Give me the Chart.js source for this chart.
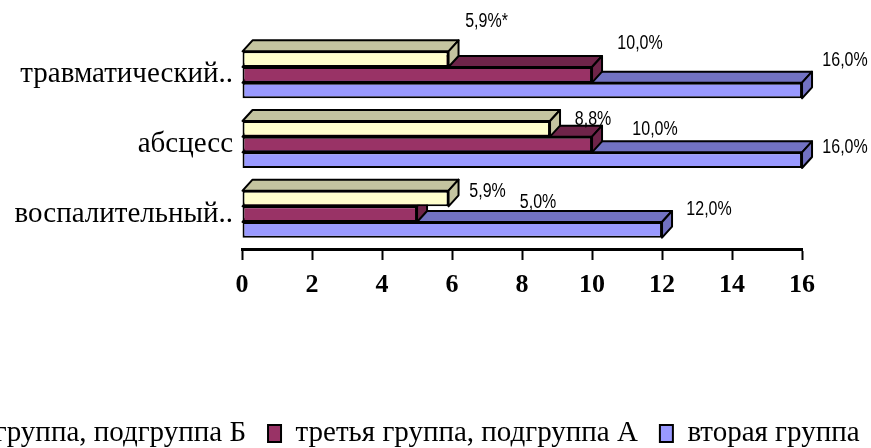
<!DOCTYPE html>
<html>
<head>
<meta charset="utf-8">
<script src="https://cdn.jsdelivr.net/npm/chart.js@4.4.1/dist/chart.umd.min.js"></script>
<style>
html, body { margin: 0; padding: 0; background: #fff; overflow: hidden; }
#wrap { position: relative; width: 871px; height: 448px; overflow: hidden; background: #fff; }
#c { position: absolute; top: 0; left: 0; }
</style>
</head>
<body>
<div id="wrap"><canvas id="c" width="1100" height="458"></canvas></div>
<script>
// ---- data ----
const categories = ['травматический..', 'абсцесс', 'воспалительный..'];
const seriesNames = ['третья группа, подгруппа Б', 'третья группа, подгруппа А', 'вторая группа'];
const subgroupB = [5.9, 8.8, 5.9];
const subgroupA = [10.0, 10.0, 5.0];
const secondGroup = [16.0, 16.0, 12.0];
const valueNotes = [['*', '', ''], ['', '', ''], ['', '', '']];
const xTickValues = [0, 2, 4, 6, 8, 10, 12, 14, 16];

// ---- styles ----
const seriesValues = [subgroupB, subgroupA, secondGroup];
const frontColors = ['#FFFFCC', '#993366', '#9999FF'];
const faceColors = ['#C4C4A0', '#6E2449', '#7272C2'];
const SERIF = "'Liberation Serif', 'Times New Roman', serif";
const SANS = "'Liberation Sans', Arial, sans-serif";

const W = 1100;
const target = { left: 242, right: 802, top: 40, bottom: 249, legendBoxX: 268 };
let shift = 0;
let xAxisH = 145;

const bar3d = {
  id: 'bar3d',
  beforeDatasetDraw(chart, args, opts) {
    const ds = chart.data.datasets[args.index];
    const ctx = chart.ctx;
    ctx.save();
    ctx.lineWidth = opts.lineWidth;
    ctx.strokeStyle = '#000';
    ctx.lineJoin = 'round';
    args.meta.data.forEach(bar => {
      const p = bar.getProps(['x', 'y', 'base', 'height'], true);
      const top = p.y - p.height / 2, bottom = p.y + p.height / 2;
      const dx = opts.dx, dy = opts.dy;
      ctx.fillStyle = ds.faceColor;
      ctx.beginPath();
      ctx.moveTo(p.base, top);
      ctx.lineTo(p.base + dx, top - dy);
      ctx.lineTo(p.x + dx, top - dy);
      ctx.lineTo(p.x, top);
      ctx.closePath();
      ctx.fill(); ctx.stroke();
      ctx.beginPath();
      ctx.moveTo(p.x, top);
      ctx.lineTo(p.x + dx, top - dy);
      ctx.lineTo(p.x + dx, bottom - dy);
      ctx.lineTo(p.x, bottom);
      ctx.closePath();
      ctx.fill(); ctx.stroke();
    });
    ctx.restore();
  }
};

const valueLabels = {
  id: 'valueLabels',
  afterDatasetsDraw(chart, args, opts) {
    const ctx = chart.ctx;
    chart.data.datasets.forEach((ds, i) => {
      chart.getDatasetMeta(i).data.forEach((bar, j) => {
        const v = ds.data[j];
        const txt = v.toFixed(1).replace('.', ',') + '%' + valueNotes[i][j];
        const n = opts.nudge[i][j];
        ctx.save();
        ctx.font = opts.font;
        ctx.fillStyle = '#000';
        ctx.textAlign = 'center';
        ctx.textBaseline = 'middle';
        ctx.translate(bar.x + n[0], bar.y + n[1]);
        ctx.scale(opts.squeeze, 1);
        ctx.fillText(txt, 0, 0);
        ctx.restore();
      });
    });
  }
};

const datasets = seriesValues.map((vals, i) => ({
  label: seriesNames[i],
  data: vals,
  backgroundColor: frontColors[i],
  borderColor: '#000',
  borderWidth: 2,
  borderSkipped: false,
  categoryPercentage: 0.675,
  barPercentage: 1,
  faceColor: faceColors[i],
  clip: false
}));

const canvas = document.getElementById('c');
const chart = new Chart(canvas, {
  type: 'bar',
  data: { labels: categories, datasets },
  plugins: [bar3d, valueLabels],
  options: {
    indexAxis: 'y',
    responsive: false,
    animation: false,
    devicePixelRatio: 1,
    layout: { padding: { top: target.top, left: 0, right: 0, bottom: 0 } },
    plugins: {
      legend: {
        position: 'bottom',
        align: 'center',
        labels: { font: { family: SERIF, size: 29 }, color: '#000', boxWidth: 13, boxHeight: 17, padding: 22 }
      },
      tooltip: { enabled: false },
      bar3d: { dx: 10, dy: 11, lineWidth: 2 },
      valueLabels: {
        font: '20px ' + SANS,
        squeeze: 0.8,
        nudge: [
          [[38, -38], [43, -9], [39, -7]],
          [[48, -31], [63, -15], [121, -12]],
          [[43, -30], [43, -13], [47, -20]]
        ]
      }
    },
    scales: {
      x: {
        type: 'linear', position: 'bottom', min: 0, max: 16,
        afterBuildTicks: s => { s.ticks = xTickValues.map(v => ({ value: v })); },
        afterFit: s => { s.height = xAxisH; },
        grid: { display: true, drawOnChartArea: false, drawTicks: true, tickLength: 11, tickWidth: 2, tickColor: '#000', color: '#000' },
        border: { display: true, color: '#000', width: 3 },
        ticks: { font: { family: SERIF, size: 26, weight: 'bold' }, color: '#000', padding: 10, maxRotation: 0, autoSkip: false }
      },
      y: {
        type: 'category', position: 'left',
        afterFit: s => { s.width = target.left + shift; },
        grid: { display: false, drawTicks: false },
        border: { display: false },
        ticks: { font: { family: SERIF, size: 29 }, color: '#000', padding: 9 }
      },
      y2: {
        type: 'category', position: 'right',
        afterFit: s => { s.width = W - target.right - shift; },
        grid: { display: false, drawTicks: false },
        border: { display: false },
        ticks: { display: false }
      }
    }
  }
});

shift = chart.legend.legendHitBoxes[1].left - target.legendBoxX;
xAxisH += chart.chartArea.bottom - target.bottom;
chart.update();
canvas.style.left = (-shift) + 'px';
</script>
</body>
</html>
